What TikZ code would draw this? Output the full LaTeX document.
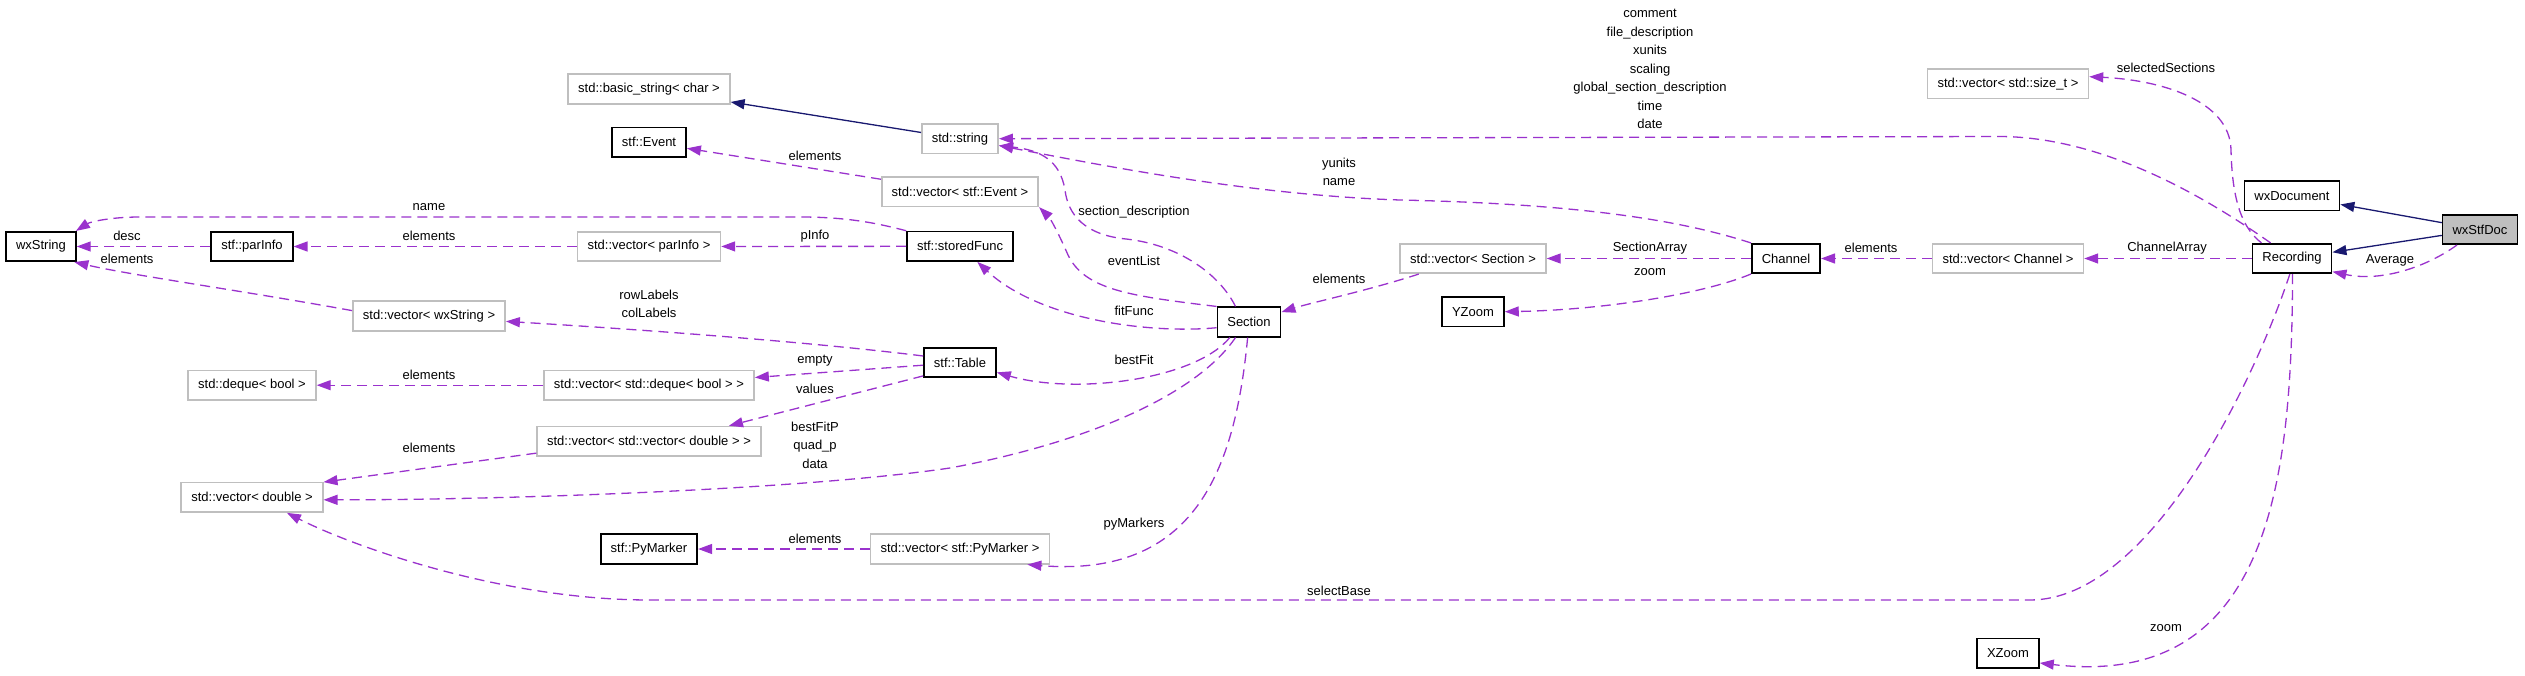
\documentclass[tikz,border=0pt]{standalone}
\usepackage{fontspec}
\setmainfont{Liberation Sans}
\usetikzlibrary{arrows.meta}

\definecolor{usecol}{HTML}{9A32CD}
\definecolor{inhcol}{HTML}{191970}
\definecolor{extcol}{HTML}{BFBFBF}

\tikzset{
  classbox/.style={draw=black, line width=1.6pt, rectangle, minimum height=29.5pt,
    inner xsep=10pt, inner ysep=0pt, font=\fontsize{13}{18.5}\selectfont},
  extbox/.style={classbox, draw=extcol},
  curbox/.style={classbox, fill=extcol},
  lbl/.style={inner sep=0pt, align=center, font=\fontsize{13}{18.5}\selectfont},
  uses/.style={draw=usecol, line width=1.3pt, dash pattern=on 10pt off 6pt,
    -{Triangle[length=14pt, width=10pt, fill=usecol]}},
  inherits/.style={draw=inhcol, line width=1.3pt,
    -{Triangle[length=14pt, width=10pt, fill=inhcol]}},
}

\begin{document}
\begin{tikzpicture}[x=1pt, y=-1pt]
  \useasboundingbox (0,0) rectangle (2525,676);

  % classes
  \node[classbox] (wxstring) at (41,246.5) {wxString};
  \node[classbox] (parinfo) at (252,246.5) {stf::parInfo};
  \node[extbox] (dequebool) at (252,385.2) {std::deque< bool >};
  \node[extbox] (vecdouble) at (252,497.3) {std::vector< double >};
  \node[extbox] (vecwxstring) at (429,316) {std::vector< wxString >};
  \node[extbox] (basicstring) at (649,89) {std::basic\_string< char >};
  \node[classbox] (event) at (649,142.3) {stf::Event};
  \node[extbox] (vecparinfo) at (649,246.5) {std::vector< parInfo >};
  \node[extbox] (vecdeque) at (649,385.2) {std::vector< std::deque< bool > >};
  \node[extbox] (vecvecdouble) at (649,441.3) {std::vector< std::vector< double > >};
  \node[classbox] (pymarker) at (649,549) {stf::PyMarker};
  \node[extbox] (stdstring) at (960,138.7) {std::string};
  \node[extbox] (vecevent) at (960,191.8) {std::vector< stf::Event >};
  \node[classbox] (storedfunc) at (960,246.3) {stf::storedFunc};
  \node[classbox] (table) at (960,362.5) {stf::Table};
  \node[extbox] (vecpymarker) at (960,549) {std::vector< stf::PyMarker >};
  \node[classbox] (section) at (1249,322) {Section};
  \node[extbox] (vecsection) at (1473,258.5) {std::vector< Section >};
  \node[classbox] (yzoom) at (1473,311.7) {YZoom};
  \node[classbox] (channel) at (1786,258.5) {Channel};
  \node[extbox] (vecsizet) at (2008,83.8) {std::vector< std::size\_t >};
  \node[extbox] (vecchannel) at (2008,258.5) {std::vector< Channel >};
  \node[classbox] (xzoom) at (2008,653.3) {XZoom};
  \node[classbox] (wxdocument) at (2292,195.8) {wxDocument};
  \node[classbox] (recording) at (2292,258.5) {Recording};
  \node[curbox] (wxstfdoc) at (2480,229.5) {wxStfDoc};

  % inheritance
  \draw[inherits] (stdstring) -- (basicstring);
  \draw[inherits] (wxstfdoc) -- (wxdocument);
  \draw[inherits] (wxstfdoc) -- (recording);

  % usage
  \draw[uses] (parinfo) -- (wxstring);
  \draw[uses] (vecwxstring.176) .. controls (250,292) and (130,275) .. (wxstring.-25);
  \draw[uses] (storedfunc.north west) .. controls (880,224) and (850,217) .. (800,217)
    -- (140,217) .. controls (110,217) and (90,222) .. (wxstring.24);
  \draw[uses] (vecparinfo) -- (parinfo);
  \draw[uses] (storedfunc) -- (vecparinfo);
  \draw[uses] (vecevent) -- (event);
  \draw[uses] (section.north west) .. controls (1130,296) and (1085,290) .. (1068,255)
    .. controls (1058,232) and (1050,218) .. (vecevent.-11);
  \draw[uses] (section.131) .. controls (1220,275) and (1180,245) .. (1126,239)
    .. controls (1085,235) and (1068,215) .. (1065,190)
    .. controls (1060,160) and (1040,150) .. (stdstring.-10);
  \draw[uses] (channel.north west) .. controls (1680,220) and (1580,204) .. (1400,200)
    .. controls (1250,195) and (1100,165) .. (stdstring.-10);
  \draw[uses] (recording.144) .. controls (2200,193) and (2100,137) .. (2000,136.5)
    -- (stdstring.east);
  \draw[uses] (section.190) .. controls (1150,334) and (1040,320) .. (storedfunc.-42);
  \draw[uses] (section.219) .. controls (1195,380) and (1075,395) .. (table.-15);
  \draw[uses] (table.170) .. controls (820,343) and (650,330) .. (vecwxstring.-4);
  \draw[uses] (table) -- (vecdeque);
  \draw[uses] (table.200) -- (vecvecdouble.11);
  \draw[uses] (vecdeque) -- (dequebool);
  \draw[uses] (vecvecdouble.186) -- (vecdouble.12);
  \draw[uses] (section.229) .. controls (1200,390) and (1100,440) .. (950,468)
    .. controls (800,490) and (500,500) .. (vecdouble.-2);
  \draw[uses] (section.265) .. controls (1235,470) and (1195,578) .. (vecpymarker.-13);
  \draw[uses] (vecpymarker) -- (pymarker);
  \draw[uses] (recording.262) .. controls (2255,380) and (2150,600) .. (2030,600)
    -- (650,600) .. controls (500,600) and (350,545) .. (vecdouble.-24);
  \draw[uses] (recording.272) .. controls (2292,480) and (2270,690) .. (xzoom.-17);
  \draw[uses] (recording.153) .. controls (2238,225) and (2232,190) .. (2231,150)
    .. controls (2230,100) and (2160,80) .. (vecsizet.5);
  \draw[uses] (recording) -- (vecchannel);
  \draw[uses] (vecchannel) -- (channel);
  \draw[uses] (channel) -- (vecsection);
  \draw[uses] (channel.south west) .. controls (1700,295) and (1600,310) .. (yzoom.east);
  \draw[uses] (vecsection.196) .. controls (1370,290) and (1310,303) .. (section.17);
  \draw[uses] (wxstfdoc.214) .. controls (2425,268) and (2380,282) .. (recording.-18);

  % edge labels
  \node[lbl] (ldesc) at (127,236) {desc};
  \node[lbl] (lwxel) at (127,259) {elements};
  \node[lbl] (lname) at (429,207) {name};
  \node[lbl] (lparel) at (429,236) {elements};
  \node[lbl] (lrowcol) at (649,304) {rowLabels\\colLabels};
  \node[lbl] (ldequeel) at (429,375) {elements};
  \node[lbl] (ldblel) at (429,448) {elements};
  \node[lbl] (level) at (815,156) {elements};
  \node[lbl] (lpinfo) at (815,236) {pInfo};
  \node[lbl] (lempty) at (815,361) {empty};
  \node[lbl] (lvalues) at (815,389) {values};
  \node[lbl] (lbestfitp) at (815,445) {bestFitP\\quad\_p\\data};
  \node[lbl] (lpymel) at (815,539) {elements};
  \node[lbl] (lsecdesc) at (1134,212) {section\_description};
  \node[lbl] (levlist) at (1134,261) {eventList};
  \node[lbl] (lfitfunc) at (1134,311) {fitFunc};
  \node[lbl] (lbestfit) at (1134,360) {bestFit};
  \node[lbl] (lpym) at (1134,524) {pyMarkers};
  \node[lbl] (lyunits) at (1339,172) {yunits\\name};
  \node[lbl] (lsecel) at (1339,279) {elements};
  \node[lbl] (lselbase) at (1339,591) {selectBase};
  \node[lbl] (lrecstr) at (1650,69) {comment\\file\_description\\xunits\\scaling\\global\_section\_description\\time\\date};
  \node[lbl] (lsecarr) at (1650,248) {SectionArray};
  \node[lbl] (lyzoom) at (1650,272) {zoom};
  \node[lbl] (lchel) at (1871,248) {elements};
  \node[lbl] (lselsec) at (2166,68) {selectedSections};
  \node[lbl] (lcharr) at (2167,248) {ChannelArray};
  \node[lbl] (lxzoom) at (2166,628) {zoom};
  \node[lbl] (lavg) at (2390,260) {Average};
\end{tikzpicture}
\end{document}
